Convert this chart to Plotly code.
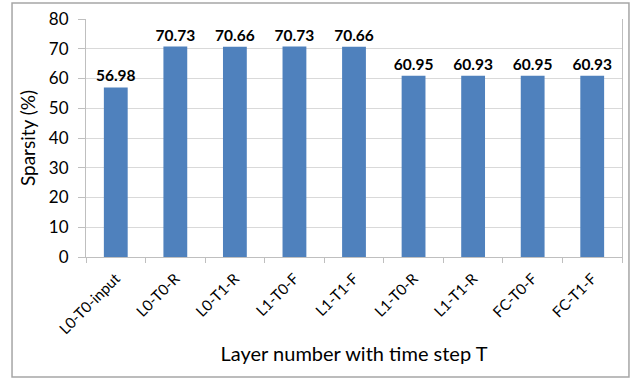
import plotly.graph_objects as go

categories = ["L0-T0-input", "L0-T0-R", "L0-T1-R", "L1-T0-F", "L1-T1-F",
              "L1-T0-R", "L1-T1-R", "FC-T0-F", "FC-T1-F"]
sparsity = [56.98, 70.73, 70.66, 70.73, 70.66, 60.95, 60.93, 60.95, 60.93]
y_ticks = [0, 10, 20, 30, 40, 50, 60, 70, 80]

FONT = "Lato, Carlito, Calibri, sans-serif"

fig = go.Figure(go.Bar(
    x=categories, y=sparsity,
    marker=dict(color="#4F81BD", line=dict(width=0)),
    width=0.4,
    text=[f"{v:.2f}" for v in sparsity],
    textposition="outside",
    constraintext="none",
    textfont=dict(family=FONT, size=15.5, color="black", weight="bold"),
    cliponaxis=False,
    hoverinfo="skip",
))

fig.update_layout(
    width=641, height=379,
    margin=dict(l=86, r=19, t=19, b=122),
    plot_bgcolor="white", paper_bgcolor="white",
    font=dict(family=FONT, color="black"),
    showlegend=False,
    xaxis=dict(
        title=dict(text="Layer number with time step T", font=dict(size=20), standoff=10),
        tickangle=-45, tickfont=dict(size=15),
        ticks="outside", tickson="boundaries", ticklen=5, tickcolor="#BFBFBF",
        ticklabelstandoff=6,
        showline=True, linecolor="#BFBFBF", linewidth=1,
        showgrid=False, automargin=False,
    ),
    yaxis=dict(
        title=dict(text="Sparsity (%)", font=dict(size=19), standoff=8),
        range=[0, 80], tickvals=y_ticks, tickfont=dict(size=17),
        ticks="outside", ticklen=7, tickcolor="#BFBFBF",
        ticklabelstandoff=6,
        showline=True, linecolor="#BFBFBF", linewidth=1, mirror=True,
        showgrid=True, gridcolor="#D9D9D9", zeroline=False, automargin=False,
    ),
    shapes=[dict(type="rect", xref="paper", yref="paper",
                 x0=-0.138, x1=1.013, y0=-0.504, y1=1.067,
                 line=dict(color="#A6A6A6", width=1.5), layer="above")],
)

fig.write_html("out.html",
               config={"displayModeBar": False, "staticPlot": True},
               post_script="document.body.style.margin='0';document.body.style.overflow='hidden';")
